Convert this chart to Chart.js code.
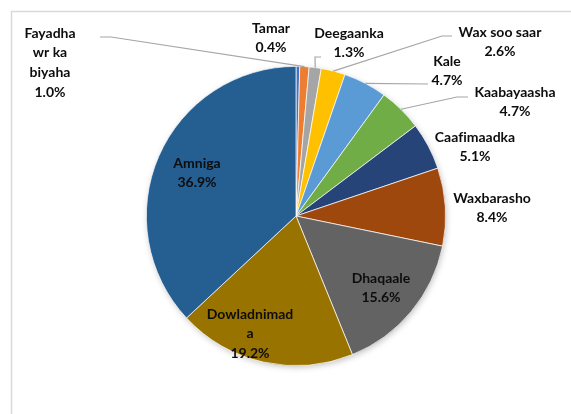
<!DOCTYPE html>
<html>
<head>
<meta charset="utf-8">
<script src="https://cdn.jsdelivr.net/npm/chart.js@4/dist/chart.umd.min.js"></script>
<style>
  html, body { margin: 0; padding: 0; background: #fff; }
  #wrap { width: 571px; height: 414px; position: relative; }
</style>
</head>
<body>
<div id="wrap"><canvas id="pieChart" width="571" height="414"></canvas></div>
<script>
/* data, clockwise from 12 o'clock */
const categories = ['Tamar', 'Fayadha wr ka biyaha', 'Deegaanka', 'Wax soo saar', 'Kale',
    'Kaabayaasha', 'Caafimaadka', 'Waxbarasho', 'Dhaqaale', 'Dowladnimada', 'Amniga'];
const shares = [0.4, 1.0, 1.3, 2.6, 4.7, 4.7, 5.1, 8.4, 15.6, 19.2, 36.9];
/* label text as it wraps in the picture */
const labelLines = [['Tamar'], ['Fayadha', 'wr ka', 'biyaha'], ['Deegaanka'], ['Wax soo saar'], ['Kale'],
    ['Kaabayaasha'], ['Caafimaadka'], ['Waxbarasho'], ['Dhaqaale'], ['Dowladnimad', 'a'], ['Amniga']];

const sliceColors = ['#4472C4', '#ED7D31', '#A5A5A5', '#FFC000', '#5B9BD5', '#70AD47',
    '#264478', '#9E480E', '#636363', '#997300', '#255E91'];

/* label anchors (offset from pie centre) and leader line bends */
const labelOffsets = [[-25, -188], [-246, -183], [53, -183], [204, -184], [151, -155], [219, -124],
    [179, -79], [196, -18], [85, 62], [-46, 98], [-99, -53]];
const leaders = {
    1: [[-185, -179], [-196, -179]],
    2: [[19, -159], [25, -159]],
    3: [[146, -180], [156, -180]],
    4: [[132, -132]],
    5: [[161, -119], [172, -119]],
};

const FONT = 'bold 14px Lato, "Open Sans", sans-serif';
const LINE_H = 19.8;

const framePlugin = {
    id: 'frame',
    beforeDraw(chart) {
        const ctx = chart.ctx;
        ctx.save();
        ctx.fillStyle = '#fff';
        ctx.fillRect(0, 0, chart.width, chart.height);
        ctx.strokeStyle = '#D9D9D9';
        ctx.lineWidth = 1.5;
        ctx.strokeRect(11.5, 11.5, 640, 480);
        ctx.restore();
    },
    beforeDatasetsDraw(chart) {
        /* soft shadow under the whole pie */
        const arc = chart.getDatasetMeta(0).data[0];
        const ctx = chart.ctx;
        ctx.save();
        ctx.shadowColor = 'rgba(0,0,0,0.25)';
        ctx.shadowBlur = 6;
        ctx.shadowOffsetX = 1;
        ctx.shadowOffsetY = 2;
        ctx.fillStyle = '#fff';
        ctx.beginPath();
        ctx.arc(arc.x, arc.y, arc.outerRadius - 0.5, 0, Math.PI * 2);
        ctx.fill();
        ctx.restore();
    },
};

const labelPlugin = {
    id: 'sliceLabels',
    afterDatasetsDraw(chart) {
        const ctx = chart.ctx;
        const arcs = chart.getDatasetMeta(0).data;
        const cx = arcs[0].x, cy = arcs[0].y;
        ctx.save();
        /* leader lines */
        ctx.strokeStyle = '#A6A6A6';
        ctx.lineWidth = 1.2;
        Object.keys(leaders).forEach(k => {
            const a = arcs[k];
            const mid = (a.startAngle + a.endAngle) / 2;
            ctx.beginPath();
            ctx.moveTo(cx + a.outerRadius * Math.cos(mid), cy + a.outerRadius * Math.sin(mid));
            leaders[k].forEach(p => ctx.lineTo(cx + p[0], cy + p[1]));
            ctx.stroke();
        });
        /* text */
        ctx.font = FONT;
        if ('textRendering' in ctx) ctx.textRendering = 'optimizeSpeed';  /* no fi ligature */
        ctx.fillStyle = '#0D0D0D';
        ctx.textAlign = 'center';
        ctx.textBaseline = 'middle';
        labelLines.forEach((lines, i) => {
            const all = lines.concat([shares[i].toFixed(1) + '%']);
            const x = cx + labelOffsets[i][0];
            const y0 = cy + labelOffsets[i][1];
            all.forEach((t, j) => ctx.fillText(t, x, y0 + j * LINE_H));
        });
        ctx.restore();
    },
};

new Chart(document.getElementById('pieChart'), {
    type: 'pie',
    data: {
        labels: categories,
        datasets: [{
            data: shares,
            backgroundColor: sliceColors,
            borderColor: '#fff',
            borderWidth: 0.7,
        }],
    },
    options: {
        responsive: false,
        animation: false,
        layout: { padding: { top: 66, bottom: 48, left: 146, right: 125 } },
        plugins: {
            legend: { display: false },
            tooltip: { enabled: false },
        },
    },
    plugins: [framePlugin, labelPlugin],
});
</script>
</body>
</html>
